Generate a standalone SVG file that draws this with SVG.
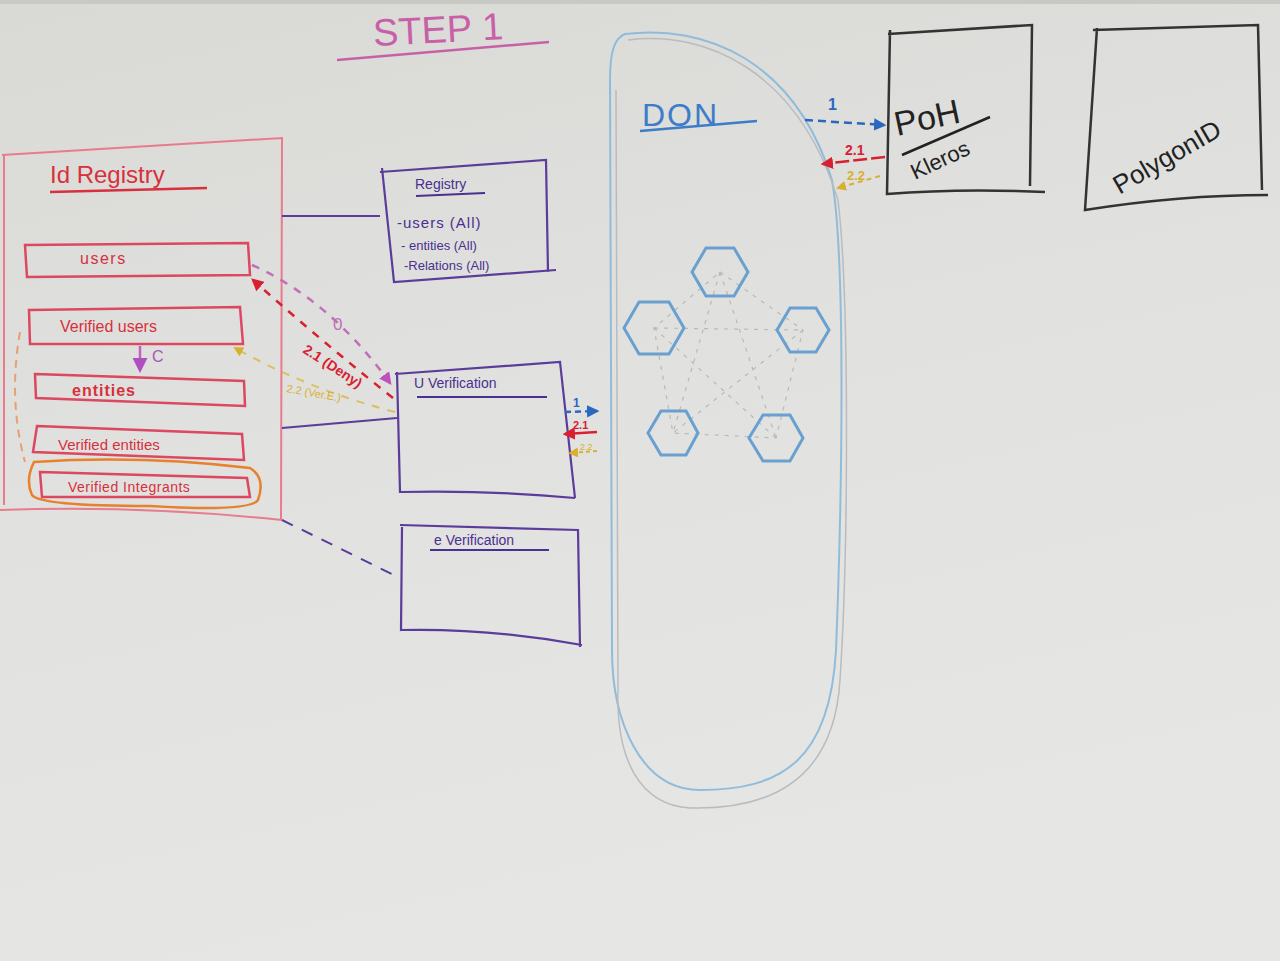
<svg xmlns="http://www.w3.org/2000/svg" width="1280" height="961" viewBox="0 0 1280 961">
<defs>
<linearGradient id="bg" x1="0" y1="0" x2="0.3" y2="1">
<stop offset="0" stop-color="#d9d9d6"/>
<stop offset="0.5" stop-color="#e1e1df"/>
<stop offset="1" stop-color="#e6e6e5"/>
</linearGradient>
<marker id="mRed" viewBox="0 0 10 10" refX="8" refY="5" markerWidth="5" markerHeight="5" orient="auto"><path d="M0,0 L10,5 L0,10 Z" fill="#d82030"/></marker>
<marker id="mMag" viewBox="0 0 10 10" refX="8" refY="5" markerWidth="5" markerHeight="5" orient="auto"><path d="M0,0 L10,5 L0,10 Z" fill="#c050c0"/></marker>
<marker id="mYel" viewBox="0 0 10 10" refX="8" refY="5" markerWidth="5" markerHeight="5" orient="auto"><path d="M0,0 L10,5 L0,10 Z" fill="#d8b030"/></marker>
<marker id="mBlue" viewBox="0 0 10 10" refX="8" refY="5" markerWidth="5" markerHeight="5" orient="auto"><path d="M0,0 L10,5 L0,10 Z" fill="#2a68c0"/></marker>
<marker id="mPur" viewBox="0 0 10 10" refX="8" refY="5" markerWidth="6" markerHeight="6" orient="auto"><path d="M0,0 L10,5 L0,10 Z" fill="#b050c0"/></marker>
</defs>
<style>
.hand{font-family:"Liberation Sans","DejaVu Sans",sans-serif}
.red{fill:#d8303c}
.pinkbox{fill:none;stroke:#dc4860;stroke-width:2.5}
.regline{fill:none;stroke:#e87c8c;stroke-width:2}
.pur{fill:none;stroke:#5a3c9a;stroke-width:2.2}
.purtxt{fill:#4a3090}
.blk{fill:none;stroke:#333;stroke-width:2.5}
.hex{fill:none;stroke:#6aa0d0;stroke-width:3}
.dot{fill:none;stroke:#b8bab8;stroke-width:1.2;stroke-dasharray:4 6}
</style>
<rect width="1280" height="961" fill="url(#bg)"/>
<rect width="1280" height="4" fill="#c8c8c4"/>

<g id="title">
<text x="373" y="42" class="hand" font-size="38" fill="#c860a8" transform="rotate(-3 450 30)">STEP 1</text>
<path d="M337 60 L549 42" stroke="#c860a8" stroke-width="2.5" fill="none"/>
</g>

<g id="id-registry">
<path class="regline" d="M2 155 L282 138 L281 520 M0 510 Q140 505 282 520 M4 155 L4 505"/>
<text x="50" y="183" class="hand red" font-size="24">Id Registry</text>
<path d="M50 192 L207 188" stroke="#d8303c" stroke-width="2.5" fill="none"/>
</g>

<g id="users">
<path class="pinkbox" d="M25 245 L248 243 L250 275 L27 277 Z"/>
<text x="80" y="264" class="hand red" font-size="16" letter-spacing="1.5">users</text>
</g>

<g id="verified-users">
<path class="pinkbox" d="M29 310 L240 307 L243 344 L30 344 Z"/>
<text x="60" y="332" class="hand red" font-size="16">Verified users</text>
</g>

<g id="entities">
<path class="pinkbox" d="M35 374 L244 381 L245 406 L36 398 Z"/>
<text x="72" y="396" class="hand red" font-size="16" font-weight="bold" letter-spacing="1">entities</text>
</g>

<g id="verified-entities">
<path class="pinkbox" d="M37 426 L242 434 L244 460 L33 452 Z"/>
<text x="58" y="450" class="hand red" font-size="15">Verified  entities</text>
</g>

<g id="verified-integrants">
<path d="M34 462 Q140 455 250 468 Q266 478 258 500 Q250 512 150 506 Q40 506 32 495 Q25 480 34 462 Z" fill="none" stroke="#e8802c" stroke-width="2.5"/>
<path class="pinkbox" d="M40 472 L247 478 L250 497 L42 497 Z"/>
<text x="68" y="492" class="hand red" font-size="14" letter-spacing="0.5">Verified  Integrants</text>
</g>

<g id="registry">
<path class="pur" d="M380 172 L546 160 L548 272 M382 168 L394 282 L556 270"/>
<text x="415" y="189" class="hand purtxt" font-size="14">Registry</text>
<path d="M416 196 L485 193" stroke="#4a3090" stroke-width="1.8" fill="none"/>
<text x="397" y="228" class="hand purtxt" font-size="15" letter-spacing="1">-users (All)</text>
<text x="401" y="250" class="hand purtxt" font-size="13">- entities (All)</text>
<text x="404" y="270" class="hand purtxt" font-size="13">-Relations (All)</text>
</g>

<g id="u-verification">
<path class="pur" d="M395 374 L560 362 L575 498 M397 372 L400 492 Q490 490 575 498"/>
<text x="414" y="388" class="hand purtxt" font-size="14">U  Verification</text>
<path d="M417 397 L547 397" stroke="#4a3090" stroke-width="2" fill="none"/>
</g>

<g id="e-verification">
<path class="pur" d="M400 525 L578 530 L580 647 M402 527 L401 630 Q490 628 582 645"/>
<text x="434" y="545" class="hand purtxt" font-size="14">e  Verification</text>
<path d="M430 550 L549 550" stroke="#4a3090" stroke-width="2" fill="none"/>
</g>

<g id="don">
<path d="M625 34 C705 24 795 60 832 180 C846 260 842 500 836 650 C830 760 782 790 700 790 C640 790 612 720 612 650 L610 80 C610 50 615 38 625 34 Z" fill="none" stroke="#90bcdc" stroke-width="2"/>
<path d="M628 40 C705 30 798 70 838 200 C850 300 848 560 840 680 C834 780 770 810 690 808 C640 805 616 760 618 690 L616 90" fill="none" stroke="#b8bcc0" stroke-width="1.5"/>
<text x="642" y="126" class="hand" font-size="32" fill="#3c7cc8" letter-spacing="2">DON</text>
<path d="M640 131 L757 121" stroke="#3c7cc8" stroke-width="2.5" fill="none"/>
<g id="don-links">
<path class="dot" d="M720 272 L803 330 L776 438 L673 433 L654 328 Z"/>
<path class="dot" d="M720 272 L673 433 M720 272 L776 438 M654 328 L803 330 M654 328 L776 438 M803 330 L673 433"/>
</g>
<polygon class="hex" points="706,248 734,248 748,272 734,296 706,296 692,272" fill="#e0e0de"/>
<polygon class="hex" points="639,302 669,302 684,328 669,354 639,354 624,328" stroke="#2a68c0" stroke-width="3.5" fill="#e0e0de"/>
<polygon class="hex" points="790,308 816,308 829,330 816,352 790,352 777,330" fill="#e0e0de"/>
<polygon class="hex" points="661,411 686,411 698,433 686,455 661,455 648,433" fill="#e2e2e0"/>
<polygon class="hex" points="763,415 790,415 803,438 790,461 763,461 749,438" fill="#e2e2e0"/>
</g>

<g id="poh-kleros">
<path class="blk" d="M888 34 L1032 25 L1030 186 M890 30 L887 194 Q960 188 1045 192"/>
<text x="897" y="136" class="hand" font-size="34" fill="#222" transform="rotate(-12 897 136)">PoH</text>
<path d="M902 155 L990 117" stroke="#222" stroke-width="2.5" fill="none"/>
<text x="915" y="180" class="hand" font-size="22" fill="#222" transform="rotate(-25 915 180)">Kleros</text>
</g>

<g id="polygon-id">
<path class="blk" d="M1093 30 L1258 25 L1262 190 M1097 28 L1085 210 Q1180 195 1268 195"/>
<text x="1090" y="165" class="hand" font-size="26" fill="#222" transform="rotate(-30 1160 125)">PolygonID</text>
</g>

<g id="connectors">
<path d="M282 216 L380 216" class="pur"/>
<path d="M282 428 L397 418" class="pur"/>
<path d="M282 520 L400 578" fill="none" stroke="#5a3c9a" stroke-width="2" stroke-dasharray="12 10"/>
<path d="M20 332 Q8 400 25 462" fill="none" stroke="#e8a070" stroke-width="2" stroke-dasharray="8 6"/>
<path d="M140 346 L140 370" stroke="#c060c0" stroke-width="2.5" fill="none" marker-end="url(#mPur)"/>
<text x="152" y="362" class="hand" font-size="16" fill="#b050c0">C</text>
<path d="M252 265 Q330 300 390 383" fill="none" stroke="#c070b8" stroke-width="2.5" stroke-dasharray="8 8" marker-end="url(#mMag)"/>
<text x="333" y="330" class="hand" font-size="17" fill="#c070b8">0</text>
<path d="M393 398 Q320 340 253 280" fill="none" stroke="#d82030" stroke-width="2.5" stroke-dasharray="8 8" marker-end="url(#mRed)"/>
<text x="302" y="352" class="hand" font-size="14" font-weight="bold" fill="#d82030" transform="rotate(33 302 352)">2.1 (Deny)</text>
<path d="M395 412 Q310 390 235 348" fill="none" stroke="#dcc060" stroke-width="2" stroke-dasharray="8 8" marker-end="url(#mYel)"/>
<text x="286" y="392" class="hand" font-size="11" fill="#d8b030" transform="rotate(10 286 392)">2.2 (Ver.E.)</text>
<path d="M565 412 L597 411" fill="none" stroke="#2a68c0" stroke-width="2.5" stroke-dasharray="6 4" marker-end="url(#mBlue)"/>
<text x="573" y="407" class="hand" font-size="12" font-weight="bold" fill="#2a68c0">1</text>
<path d="M597 432 L565 434" fill="none" stroke="#d82030" stroke-width="2.5" marker-end="url(#mRed)"/>
<text x="573" y="429" class="hand" font-size="11" font-weight="bold" fill="#d82030">2.1</text>
<path d="M597 451 L570 453" fill="none" stroke="#d8b030" stroke-width="2" stroke-dasharray="4 3" marker-end="url(#mYel)"/>
<text x="580" y="450" class="hand" font-size="9" fill="#d8b030">2.2</text>
<path d="M805 120 L884 125" fill="none" stroke="#2a68c0" stroke-width="2.5" stroke-dasharray="8 5" marker-end="url(#mBlue)"/>
<text x="828" y="110" class="hand" font-size="16" font-weight="bold" fill="#2a68c0">1</text>
<path d="M885 157 L823 164" fill="none" stroke="#d82030" stroke-width="2.5" stroke-dasharray="14 4" marker-end="url(#mRed)"/>
<text x="845" y="155" class="hand" font-size="14" font-weight="bold" fill="#d82030">2.1</text>
<path d="M880 176 L838 188" fill="none" stroke="#d8b030" stroke-width="2" stroke-dasharray="5 4" marker-end="url(#mYel)"/>
<text x="847" y="180" class="hand" font-size="13" font-weight="bold" fill="#d8b030">2.2</text>
</g>
</svg>
